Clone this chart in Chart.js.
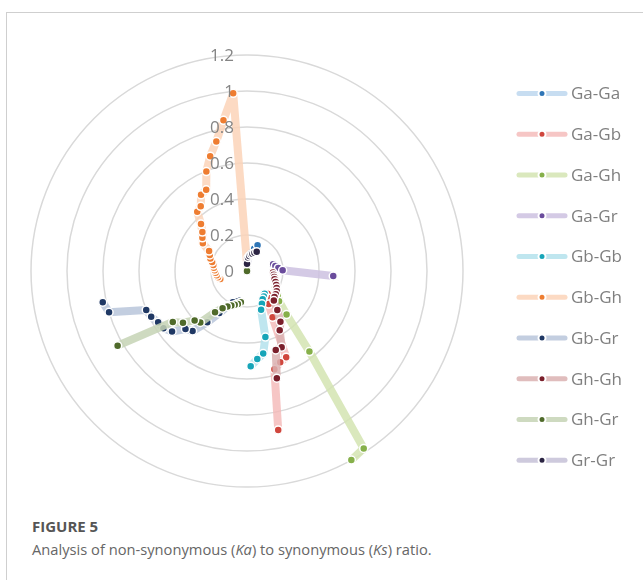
<!DOCTYPE html>
<html>
<head>
<meta charset="utf-8">
<title>Ka/Ks radar</title>
<script src="https://cdn.jsdelivr.net/npm/chart.js@4.4.0/dist/chart.umd.min.js"></script>
<style>
  html, body { margin: 0; padding: 0; background: #fff; }
  body { width: 643px; height: 580px; position: relative; overflow: hidden; font-family: "Open Sans", sans-serif; }
  .frame { position: absolute; left: 6px; top: 12px; right: -2px; bottom: -2px; border-left: 1px solid #cfcfcf; border-top: 1px solid #cfcfcf; }
  .chart-box { position: absolute; left: 0; top: 0; width: 643px; height: 505px; }
  .fig-label { position: absolute; left: 32px; top: 516px; font-weight: 700; font-size: 15px; color: #555; }
  .fig-caption { position: absolute; left: 32px; top: 539px; font-size: 14.7px; color: #666; }
</style>
</head>
<body>
<div class="frame"></div>
<div class="chart-box"><canvas id="kaksChart"></canvas></div>
<div class="fig-label">FIGURE 5</div>
<div class="fig-caption">Analysis of non-synonymous (<i>Ka</i>) to synonymous (<i>Ks</i>) ratio.</div>
<script>
(function () {
  "use strict";

  // 81 gene-pair slots around the circle (labels are not shown)
  const categories = Array.from({ length: 81 }, (_, i) => "P" + (i + 1));

  const seriesNames = ["Ga-Ga", "Ga-Gb", "Ga-Gh", "Ga-Gr", "Gb-Gb", "Gb-Gh", "Gb-Gr", "Gh-Gh", "Gh-Gr", "Gr-Gr"];

  // each series: first slot, then its Ka/Ks values slot by slot
  const gaGaStart = 2;
  const gaGa = [0.09, 0.11, 0.13, 0.155];
  const gaGbStart = 31;
  const gaGb = [0.17, 0.19, 0.22, 0.294, 0.526, 0.54, 0.567, 0.9];
  const gaGhStart = 27;
  const gaGh = [0.18, 0.2, 0.22, 0.245, 0.327, 0.566, 1.18, 1.2];
  const gaGrStart = 17;
  const gaGr = [0.15, 0.16, 0.175, 0.198, 0.48];
  const gbGbStart = 32;
  const gbGb = [0.16, 0.17, 0.18, 0.2, 0.229, 0.381, 0.467, 0.492, 0.53];
  const gbGhStart = 57; // wraps past the top
  const gbGh = [0.155, 0.165, 0.17, 0.175, 0.18, 0.185, 0.19, 0.2, 0.215, 0.225, 0.238, 0.29, 0.309,
    0.329, 0.365, 0.43, 0.442, 0.494, 0.505, 0.597, 0.67, 0.739, 0.847, 0.99, 0.04];
  const gbGrStart = 44;
  const gbGr = [0.17, 0.18, 0.19, 0.22, 0.28, 0.36, 0.45, 0.47, 0.535, 0.563, 0.57, 0.59, 0.6, 0.8, 0.82];
  const ghGhStart = 21;
  const ghGh = [0.145, 0.15, 0.155, 0.16, 0.17, 0.18, 0.19, 0.2, 0.205, 0.21, 0.222, 0.275, 0.338, 0.376, 0.465, 0.467, 0.618];
  const ghGrStart = 40;
  const ghGr = [0, null, null, 0.177, 0.19, 0.2, 0.21, 0.225, 0.247, 0.29, 0.386, 0.4, 0.457, 0.5, 0.83];
  const grGrStart = 0;
  const grGr = [0.04, 0.075, 0.085, 0.095, 0.1, 0.11, 0.12];

  const ringTicks = [0, 0.2, 0.4, 0.6, 0.8, 1, 1.2];
  const ringLabels = ["0", "0.2", "0.4", "0.6", "0.8", "1", "1.2"];

  const bandColors = [
    "rgba(189, 215, 238, 0.85)", "rgba(244, 184, 182, 0.8)", "rgba(212, 228, 178, 0.85)", "rgba(204, 193, 224, 0.85)",
    "rgba(180, 226, 236, 0.85)", "rgba(252, 212, 184, 0.85)", "rgba(184, 197, 218, 0.85)", "rgba(218, 178, 178, 0.85)",
    "rgba(198, 211, 181, 0.85)", "rgba(197, 193, 215, 0.85)",
  ];
  const markerColors = ["#2e75b6", "#d0463d", "#86b04a", "#6a4c9c", "#17a5b8", "#ee7d31", "#1f3864", "#7a1f2b", "#4f6a2a", "#2b2443"];

  const placed = [
    [gaGaStart, gaGa], [gaGbStart, gaGb], [gaGhStart, gaGh], [gaGrStart, gaGr], [gbGbStart, gbGb],
    [gbGhStart, gbGh], [gbGrStart, gbGr], [ghGhStart, ghGh], [ghGrStart, ghGr], [grGrStart, grGr],
  ];

  function spread(start, values) {
    const row = categories.map(() => null);
    values.forEach((v, k) => { row[(start + k) % categories.length] = v; });
    return row;
  }

  const ringLabelPlugin = {
    id: "ringLabels",
    afterDatasetsDraw(chart) {
      const r = chart.scales.r;
      const ctx = chart.ctx;
      ctx.save();
      ctx.font = '17px "Open Sans"';
      ctx.fillStyle = "#858585";
      ctx.textAlign = "right";
      ctx.textBaseline = "middle";
      ringTicks.forEach((v, i) => {
        ctx.fillText(ringLabels[i], r.xCenter - 13, r.yCenter - r.getDistanceFromCenterForValue(v) + 1);
      });
      ctx.restore();
    },
  };

  const sideLegendPlugin = {
    id: "sideLegend",
    afterDraw(chart) {
      const ctx = chart.ctx;
      ctx.save();
      chart.data.datasets.forEach((ds, i) => {
        const y = 93.5 + i * 40.75;
        ctx.strokeStyle = bandColors[i];
        ctx.lineWidth = 5;
        ctx.lineCap = "round";
        ctx.beginPath();
        ctx.moveTo(519, y);
        ctx.lineTo(565, y);
        ctx.stroke();
        ctx.beginPath();
        ctx.arc(542, y, 3.5, 0, Math.PI * 2);
        ctx.fillStyle = markerColors[i];
        ctx.fill();
        ctx.lineWidth = 2;
        ctx.strokeStyle = "#fff";
        ctx.stroke();
        ctx.font = '17px "Open Sans"';
        ctx.fillStyle = "#7f7f7f";
        ctx.textBaseline = "middle";
        ctx.textAlign = "left";
        ctx.fillText(ds.label, 571, y + 1);
      });
      ctx.restore();
    },
  };

  new Chart(document.getElementById("kaksChart"), {
    type: "radar",
    data: {
      labels: categories,
      datasets: seriesNames.map((name, i) => ({
        label: name,
        data: spread(placed[i][0], placed[i][1]),
        borderColor: bandColors[i],
        borderWidth: 8,
        borderJoinStyle: "round",
        backgroundColor: "transparent",
        fill: false,
        pointBackgroundColor: markerColors[i],
        pointBorderColor: "#fff",
        pointBorderWidth: 1.5,
        pointRadius: 4,
        spanGaps: false,
        order: seriesNames.length - i,
      })),
    },
    options: {
      responsive: true,
      maintainAspectRatio: false,
      animation: false,
      layout: { padding: { left: 31, right: 180, top: 55, bottom: 18 } },
      plugins: { legend: { display: false }, tooltip: { enabled: false } },
      scales: {
        r: {
          min: 0,
          max: 1.2,
          ticks: { stepSize: 0.2, display: false },
          grid: { circular: true, color: "#d9d9d9", lineWidth: 1.5 },
          angleLines: { display: false },
          pointLabels: { display: false },
        },
      },
    },
    plugins: [ringLabelPlugin, sideLegendPlugin],
  });
})();
</script>
</body>
</html>
